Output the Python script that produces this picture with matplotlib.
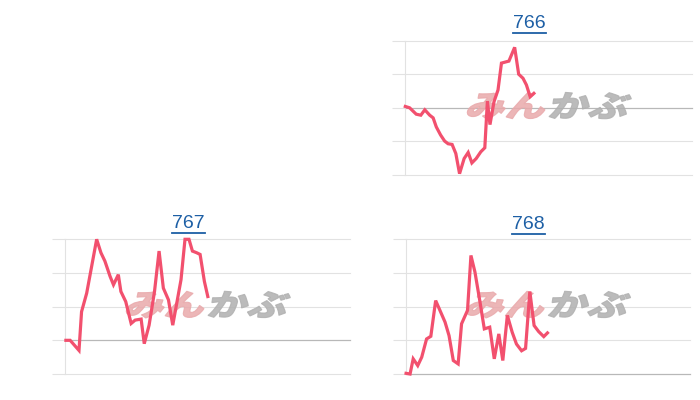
import matplotlib
matplotlib.use("Agg")
import matplotlib.pyplot as plt
from matplotlib.lines import Line2D
from matplotlib.textpath import TextPath
from matplotlib.patches import PathPatch
from matplotlib.font_manager import FontProperties
from matplotlib.transforms import Affine2D

# 時間軸は 0-100 (取引時間の割合), 値は目盛り1本 = 1 単位
codes = ["766", "767", "768"]

x_766 = [0.1, 1.6, 3.9, 5.5, 6.9, 8.6, 9.8, 10.9, 12.4, 13.8, 15.0, 16.4, 17.7, 19.0,
         20.6, 22.0, 23.3, 24.8, 26.4, 27.8, 28.7, 29.6, 31.0, 32.4, 33.6, 35.3, 36.2,
         38.2, 39.6, 41.1, 42.3, 43.6, 44.9]
y_766 = [0.04, 0.0, -0.19, -0.22, -0.06, -0.22, -0.3, -0.57, -0.81, -0.99, -1.07, -1.09,
         -1.36, -1.96, -1.51, -1.33, -1.64, -1.51, -1.31, -1.19, 0.2, -0.5, 0.18, 0.53,
         1.33, 1.37, 1.39, 1.8, 1.0, 0.88, 0.68, 0.33, 0.43]

x_767 = [0.3, 1.8, 4.9, 5.8, 7.6, 11.1, 12.6, 14.0, 15.8, 17.0, 18.7, 19.6, 21.3, 23.2,
         24.6, 26.7, 27.8, 29.5, 31.4, 33.0, 34.5, 36.3, 37.8, 39.2, 40.7, 42.1, 43.5,
         44.7, 46.2, 47.4, 48.9, 50.1]
y_767 = [0.0, 0.0, -0.3, 0.85, 1.4, 3.0, 2.6, 2.35, 1.9, 1.65, 1.95, 1.45, 1.15, 0.5,
         0.6, 0.63, -0.1, 0.45, 1.45, 2.65, 1.55, 1.2, 0.45, 1.1, 1.8, 3.0, 3.0, 2.65,
         2.6, 2.55, 1.75, 1.3]

x_768 = [0.2, 1.6, 2.7, 4.3, 5.7, 7.4, 8.9, 10.6, 12.1, 13.9, 15.3, 16.8, 18.5, 19.7,
         21.8, 23.0, 24.4, 26.1, 27.7, 29.6, 31.2, 32.8, 34.2, 35.8, 37.5, 39.0, 40.8,
         42.2, 43.7, 45.2, 46.8, 48.6, 49.9]
y_768 = [0.02, 0.0, 0.45, 0.25, 0.5, 1.04, 1.12, 2.18, 1.89, 1.54, 1.14, 0.4, 0.3, 1.49,
         1.89, 3.52, 3.03, 2.18, 1.34, 1.39, 0.45, 1.19, 0.4, 1.74, 1.24, 0.89, 0.69,
         0.76, 2.45, 1.44, 1.26, 1.11, 1.22]

y_ranges = [(-2, 2), (-1, 3), (0, 4)]

LINE = "#f2506e"
GRID = "#e2e2e2"
BASE = "#b8b8b8"
LINK = "#1d5fa5"

fig = plt.figure(figsize=(7, 4), dpi=100)
fig.patch.set_facecolor("white")

# [left, bottom, width, height], 残りの左上は空白
positions = [[0.5786, 0.5625, 0.41, 0.336],
             [0.0929, 0.065, 0.4071, 0.3368],
             [0.5793, 0.065, 0.4064, 0.3368]]
title_xy = [(529.2 / 700, 1 - 23.7 / 400),
            (188.8 / 700, 1 - 223.3 / 400),
            (528.8 / 700, 1 - 224.0 / 400)]

logo_fp = FontProperties(family="Noto Sans CJK JP", weight="black")


def add_logo(ax):
    """みんかぶ風の透かしをaxesの中央に置く"""
    cx, cy = ax.transAxes.transform((0.5, 0.5))
    size = 30
    p1 = TextPath((0, 0), "みん", size=size, prop=logo_fp)
    p2 = TextPath((0, 0), "かぶ", size=size, prop=logo_fp)
    w1 = p1.get_extents().x1
    w2 = p2.get_extents().x1
    sx = 1.33
    gap = 4
    total = (w1 + w2) * sx + gap
    ext = p1.get_extents()
    h = ext.y1 - ext.y0
    x0 = cx - total / 2 - 3
    y0 = cy - h / 2 - ext.y0 + 2
    t1 = Affine2D().scale(sx, 1).skew_deg(15, 0).translate(x0, y0)
    t2 = Affine2D().scale(sx, 1).skew_deg(15, 0).translate(x0 + w1 * sx + gap, y0)
    ax.add_patch(PathPatch(p1, transform=t1, facecolor="#e9a9ab", edgecolor="#e9a9ab",
                           linewidth=0.8, alpha=0.85, zorder=2, clip_on=False))
    ax.add_patch(PathPatch(p2, transform=t2, facecolor="#b0b0b0", edgecolor="#b0b0b0",
                           linewidth=0.8, alpha=0.85, zorder=2, clip_on=False))


series = [(x_766, y_766), (x_767, y_767), (x_768, y_768)]
titles = []
for i, code in enumerate(codes):
    ax = fig.add_axes(positions[i])
    ax.set_facecolor("none")
    lo, hi = y_ranges[i]
    ax.set_xlim(0, 100)
    ax.set_ylim(lo, hi)
    ax.set_yticks(range(lo, hi + 1))
    ax.set_xticks([])
    ax.tick_params(axis="y", length=9.5, width=0.8, color=GRID, labelleft=False)
    for s in ["top", "right", "bottom"]:
        ax.spines[s].set_visible(False)
    ax.spines["left"].set_color(GRID)
    ax.spines["left"].set_linewidth(0.8)
    # 目盛り線は端で切れないよう自前で引く
    for v in range(lo, hi + 1):
        if v == 0:
            ax.axhline(v, color=BASE, linewidth=0.9, zorder=1, clip_on=False)
        else:
            ax.axhline(v, color=GRID, linewidth=0.8, zorder=0, clip_on=False)
    add_logo(ax)
    xs, ys = series[i]
    ax.plot(xs, ys, color=LINE, linewidth=2.3, solid_joinstyle="miter",
            clip_on=False, zorder=3)
    t = fig.text(title_xy[i][0], title_xy[i][1], code, ha="center", va="center",
                 fontsize=14, color=LINK, family="Liberation Sans")
    titles.append(t)

# タイトルにリンク風の下線を引く
fig.canvas.draw()
r = fig.canvas.get_renderer()
for t in titles:
    bb = t.get_window_extent(r)
    yline = (bb.y0 - 1) / 400
    fig.add_artist(Line2D([bb.x0 / 700, bb.x1 / 700], [yline, yline],
                          color=LINK, linewidth=1.3))

fig.savefig("out.png", dpi=100, facecolor="white")
